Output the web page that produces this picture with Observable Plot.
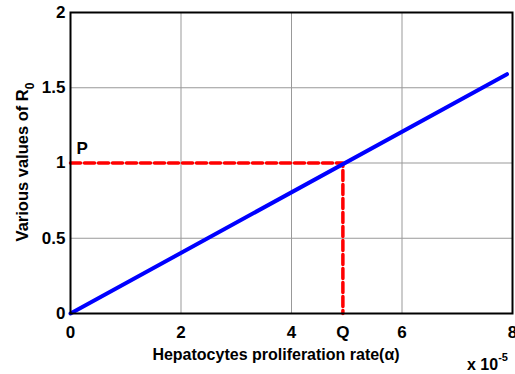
<!DOCTYPE html>
<html><head><meta charset="utf-8">
<script src="https://cdn.jsdelivr.net/npm/d3@7"></script>
<script src="https://cdn.jsdelivr.net/npm/@observablehq/plot@0.6"></script>
<style>body{margin:0;background:#fff;} svg{font-family:"Liberation Sans",Arial,sans-serif;}</style>
</head><body><div id="chart"></div>
<script>
const lineX = [0, 7.9];
const lineY = [0, 1.59];
const qX = 4.93, pY = 1;
const xTicks = [0, 2, 4, 6, 8];
const yTicks = [0, 0.5, 1, 1.5, 2];
const yTickLabels = ["0", "0.5", "1", "1.5", "2"];

const lineData = lineX.map((x, i) => ({x, y: lineY[i]}));
const plot = Plot.plot({
  width: 515, height: 374,
  marginLeft: 70, marginRight: 3, marginTop: 12, marginBottom: 61,
  style: {fontFamily: "Liberation Sans, Arial, sans-serif", fontWeight: "bold", fontSize: "17px", background: "#fff"},
  x: {domain: [0, 8]},
  y: {domain: [0, 2]},
  marks: [
    Plot.gridX(xTicks, {stroke: "#999", strokeOpacity: 1, strokeWidth: 1}),
    Plot.gridY(yTicks, {stroke: "#999", strokeOpacity: 1, strokeWidth: 1}),
    Plot.line([{x: 0, y: pY}, {x: qX, y: pY}, {x: qX, y: 0}], {x: "x", y: "y", stroke: "#ff0000", strokeWidth: 3.5, strokeDasharray: "10,4"}),
    Plot.line(lineData, {x: "x", y: "y", stroke: "#0000ff", strokeWidth: 4}),
    Plot.frame({stroke: "#000", strokeWidth: 2}),
    Plot.axisX([...xTicks, qX], {tickSize: 0, tickPadding: 12, tickFormat: d => d === qX ? "Q" : String(d), fontSize: 17, fontWeight: "bold", label: null, fill: "#000"}),
    Plot.axisY(yTicks, {tickSize: 0, tickPadding: 5, tickFormat: (d, i) => yTickLabels[i], fontSize: 17, fontWeight: "bold", label: null, fill: "#000"}),
    Plot.text(["P"], {x: 0, y: pY, dx: 6, dy: -9, textAnchor: "start", lineAnchor: "bottom", fontSize: 17, fontWeight: "bold", fill: "#000"})
  ]
});
const svg = d3.select(plot);
const yl = svg.append("text")
  .attr("transform", "translate(28,162) rotate(-90)")
  .attr("text-anchor", "middle")
  .style("font-size", "16.5px").style("font-weight", "bold").attr("fill", "#000");
yl.append("tspan").text("Various values of R");
yl.append("tspan").attr("dy", 6).style("font-size", "12px").text("0");
svg.append("text").attr("x", 276).attr("y", 360).attr("text-anchor", "middle")
  .style("font-size", "16px").style("font-weight", "bold").attr("fill", "#000")
  .text("Hepatocytes proliferation rate(α)");
const ex = svg.append("text").attr("x", 467).attr("y", 370).attr("text-anchor", "start")
  .style("font-size", "16px").style("font-weight", "bold").attr("fill", "#000");
ex.append("tspan").text("x 10");
ex.append("tspan").attr("dy", -9).style("font-size", "11px").text("-5");
document.getElementById("chart").appendChild(plot);
</script></body></html>
